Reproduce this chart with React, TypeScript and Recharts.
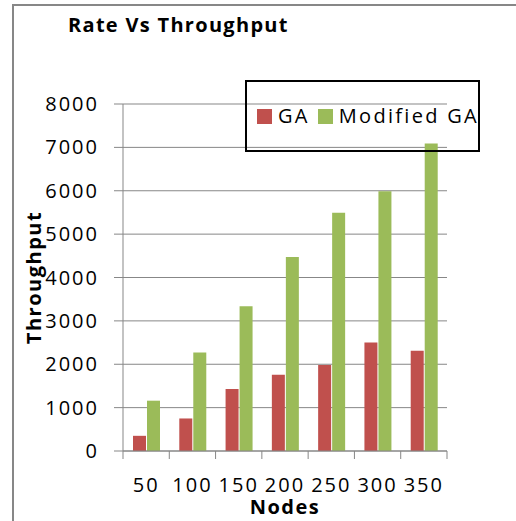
import { BarChart, Bar, XAxis, YAxis, CartesianGrid } from "recharts";

const nodes = ["50", "100", "150", "200", "250", "300", "350"];
const gaValues = [350, 750, 1430, 1760, 1980, 2500, 2310];
const modifiedGaValues = [1160, 2270, 3340, 4470, 5490, 5990, 7090];
const yTicks = [0, 1000, 2000, 3000, 4000, 5000, 6000, 7000, 8000];

const seriesNames = ["GA", "Modified GA"];
const seriesColors = ["#C0504D", "#9BBB59"];

const W = 516;
const H = 521;
const PLOT_LEFT = 123;
const PLOT_RIGHT = 447;
const PLOT_TOP = 104;
const X_AXIS_H = 70;
const AXIS_GRAY = "#878787";
const FONT = "'Open Sans', sans-serif";

const data = nodes.map((n, i) => ({
  node: n,
  ga: gaValues[i],
  mga: modifiedGaValues[i],
}));

function NodeTick(props: any) {
  const { x, y, payload, index } = props;
  const band = (PLOT_RIGHT - PLOT_LEFT) / nodes.length;
  const axisY = y - 27;
  const left = x - band / 2;
  const right = x + band / 2;
  return (
    <g>
      <line x1={left} x2={left} y1={axisY} y2={axisY + 8} stroke={AXIS_GRAY} />
      {index === nodes.length - 1 && (
        <line x1={right} x2={right} y1={axisY} y2={axisY + 8} stroke={AXIS_GRAY} />
      )}
      <text
        x={x}
        y={y}
        dy="0.71em"
        textAnchor="middle"
        fontFamily={FONT}
        fontSize={20}
        letterSpacing={2}
        fill="#000"
      >
        {payload.value}
      </text>
    </g>
  );
}

export default function App() {
  return (
    <div style={{ position: "absolute", left: 0, top: 0, width: W, height: H, background: "#fff" }}>
      <div
        style={{
          position: "absolute",
          left: 12,
          top: 4,
          right: 0,
          bottom: 0,
          borderLeft: `2px solid ${AXIS_GRAY}`,
          borderTop: `2px solid ${AXIS_GRAY}`,
        }}
      />
      <div
        style={{
          position: "absolute",
          left: 68,
          top: 15,
          fontFamily: FONT,
          fontSize: 20,
          lineHeight: "20px",
          fontWeight: 700,
          letterSpacing: 1.3,
          whiteSpace: "nowrap",
        }}
      >
        Rate Vs Throughput
      </div>
      <div style={{ position: "absolute", left: 0, top: 0 }}>
        <BarChart
          width={W}
          height={H}
          data={data}
          margin={{ top: PLOT_TOP, right: W - PLOT_RIGHT, bottom: 0, left: 0 }}
          barGap={1}
        >
          <CartesianGrid vertical={false} stroke={AXIS_GRAY} />
          <XAxis
            dataKey="node"
            height={X_AXIS_H}
            axisLine={{ stroke: AXIS_GRAY }}
            tickLine={false}
            tickSize={0}
            tickMargin={27}
            tick={<NodeTick />}
            interval={0}
            label={{
              content: ({ viewBox }: any) => (
                <text
                  x={viewBox.x + viewBox.width / 2}
                  y={viewBox.y + 55}
                  textAnchor="middle"
                  dominantBaseline="central"
                  fontFamily={FONT}
                  fontSize={20}
                  fontWeight={700}
                  letterSpacing={1.5}
                  fill="#000"
                >
                  Nodes
                </text>
              ),
            }}
          />
          <YAxis
            width={PLOT_LEFT}
            domain={[0, 8000]}
            ticks={yTicks}
            interval={0}
            axisLine={{ stroke: AXIS_GRAY }}
            tickLine={{ stroke: AXIS_GRAY }}
            tickSize={9}
            tickMargin={15}
            tick={{ fill: "#000", fontSize: 20, fontFamily: FONT, letterSpacing: 2 }}
            label={{
              content: ({ viewBox }: any) => {
                const cx = viewBox.x + 33;
                const cy = viewBox.y + viewBox.height / 2;
                return (
                  <text
                    x={cx}
                    y={cy}
                    transform={`rotate(-90 ${cx} ${cy})`}
                    textAnchor="middle"
                    dominantBaseline="central"
                    fontFamily={FONT}
                    fontSize={20}
                    fontWeight={700}
                    letterSpacing={1.5}
                    fill="#000"
                  >
                    Throughput
                  </text>
                );
              },
            }}
          />
          <YAxis
            yAxisId="right"
            orientation="right"
            width={0}
            tick={false}
            tickLine={false}
            axisLine={{ stroke: AXIS_GRAY }}
          />
          <Bar dataKey="ga" name={seriesNames[0]} fill={seriesColors[0]} barSize={13} isAnimationActive={false} />
          <Bar dataKey="mga" name={seriesNames[1]} fill={seriesColors[1]} barSize={13} isAnimationActive={false} />
        </BarChart>
      </div>
      <div
        style={{
          position: "absolute",
          left: 245,
          top: 80,
          width: 235,
          height: 72,
          border: "2px solid #000",
          boxSizing: "border-box",
          display: "flex",
          alignItems: "center",
          paddingLeft: 10,
          fontFamily: FONT,
          fontSize: 20,
          letterSpacing: 2.3,
          whiteSpace: "nowrap",
        }}
      >
        {seriesNames.map((name, i) => (
          <div key={name} style={{ display: "flex", alignItems: "center", marginRight: 8 }}>
            <span style={{ width: 15, height: 15, background: seriesColors[i], marginRight: 6 }} />
            <span style={{ lineHeight: "20px" }}>{name}</span>
          </div>
        ))}
      </div>
    </div>
  );
}
